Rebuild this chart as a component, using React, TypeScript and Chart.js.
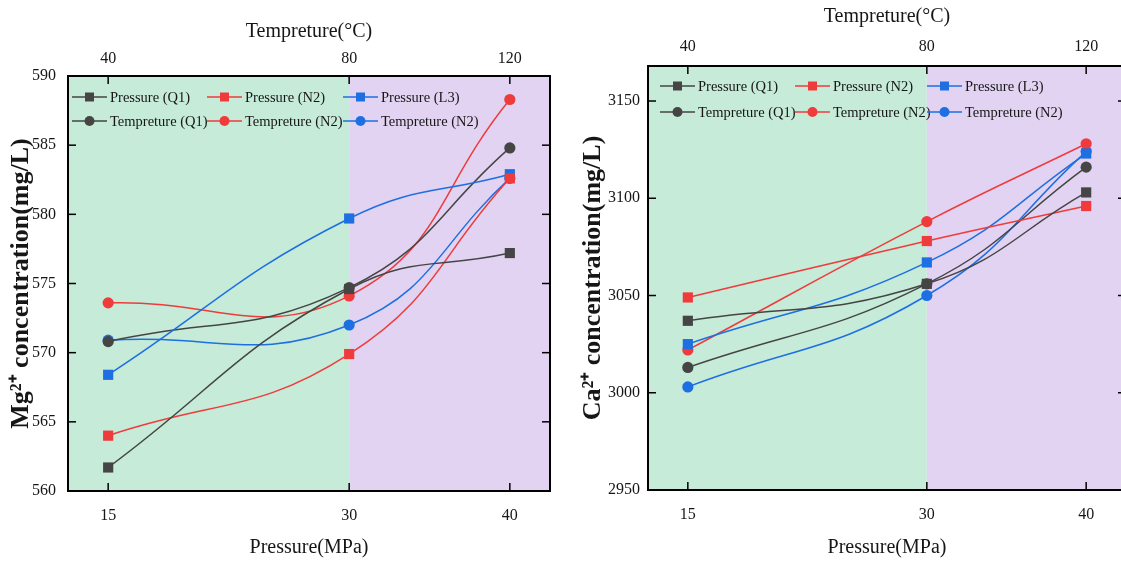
import React, { useEffect, useRef } from "react";
import { Chart, registerables } from "chart.js";

Chart.register(...registerables);

const FONT = '"Liberation Serif", "Times New Roman", Times, serif';
const TEXT = "#161616";
const GREEN = "#c6ebd8";
const PURPLE = "#e2d3f2";

// ---- shared axis data ----
const pressureTicks = [15, 30, 40];
const temperatureLabels = ["40", "80", "120"];
const pressureRange = [12.5, 42.5];
const phaseBoundary = 30;

// ---- series meta ----
const seriesNames = [
  "Pressure (Q1)",
  "Pressure (N2)",
  "Pressure (L3)",
  "Tempreture (Q1)",
  "Tempreture (N2)",
  "Tempreture (N2)",
];
const seriesColors = ["#454545", "#ef3b3b", "#1d6fe2", "#454545", "#ef3b3b", "#1d6fe2"];
const seriesMarkers = ["rect", "rect", "rect", "circle", "circle", "circle"];

// ---- Mg2+ chart values ----
const mgPressureQ1 = [561.7, 574.6, 577.2];
const mgPressureN2 = [564.0, 569.9, 582.6];
const mgPressureL3 = [568.4, 579.7, 582.9];
const mgTempQ1 = [570.8, 574.7, 584.8];
const mgTempN2Red = [573.6, 574.1, 588.3];
const mgTempN2Blue = [570.9, 572.0, 582.6];
const mgYRange = [560, 590];
const mgYStep = 5;

// ---- Ca2+ chart values ----
const caPressureQ1 = [3037, 3056, 3103];
const caPressureN2 = [3049, 3078, 3096];
const caPressureL3 = [3025, 3067, 3123];
const caTempQ1 = [3013, 3056, 3116];
const caTempN2Red = [3022, 3088, 3128];
const caTempN2Blue = [3003, 3050, 3124];
const caYRange = [2950, 3168];
const caYStep = 50;

type Layout = {
  leftW: number;
  rightW: number;
  topH: number;
  bottomH: number;
  yTickPad: number;
  yTickSize: number;
  yTitlePad: number;
  xTickPad: number;
  topTickPad: number;
  topTitlePad: number;
  bottomTitlePad: number;
  legendCols: number[];
  legendRows: number[];
};

const mgLayout: Layout = {
  leftW: 68,
  rightW: 10,
  topH: 76,
  bottomH: 73,
  yTickPad: 12,
  yTickSize: 16,
  yTitlePad: 6,
  xTickPad: 15,
  topTickPad: 8,
  topTitlePad: 20,
  bottomTitlePad: 4,
  legendCols: [4, 139, 275],
  legendRows: [21, 45],
};

const caLayout: Layout = {
  leftW: 88,
  rightW: 14,
  topH: 66,
  bottomH: 74,
  yTickPad: 8,
  yTickSize: 16,
  yTitlePad: 18,
  xTickPad: 15,
  topTickPad: 10,
  topTitlePad: 5,
  bottomTitlePad: 4,
  legendCols: [12, 147, 279],
  legendRows: [20, 46],
};

function makePlugins(L: Layout) {
  const background = {
    id: "phaseBackground",
    beforeDraw(chart: any) {
      const { ctx, chartArea: a, scales } = chart;
      const xb = scales.x.getPixelForValue(phaseBoundary);
      ctx.save();
      ctx.fillStyle = GREEN;
      ctx.fillRect(a.left, a.top, xb - a.left, a.bottom - a.top);
      ctx.fillStyle = PURPLE;
      ctx.fillRect(xb, a.top, a.right - xb, a.bottom - a.top);
      ctx.restore();
    },
  };
  const legend = {
    id: "insideLegend",
    afterDatasetsDraw(chart: any) {
      const { ctx, chartArea: a } = chart;
      ctx.save();
      chart.data.datasets.forEach((ds: any, i: number) => {
        const col = i % 3;
        const row = Math.floor(i / 3);
        const x = a.left + L.legendCols[col];
        const y = a.top + L.legendRows[row];
        ctx.strokeStyle = ds.borderColor;
        ctx.lineWidth = 1.5;
        ctx.beginPath();
        ctx.moveTo(x, y);
        ctx.lineTo(x + 35, y);
        ctx.stroke();
        ctx.fillStyle = ds.borderColor;
        if (ds.pointStyle === "rect") {
          ctx.fillRect(x + 17.5 - 4.5, y - 4.5, 9, 9);
        } else {
          ctx.beginPath();
          ctx.arc(x + 17.5, y, 5, 0, Math.PI * 2);
          ctx.fill();
        }
        ctx.fillStyle = TEXT;
        ctx.font = `14.5px ${FONT}`;
        ctx.textAlign = "left";
        ctx.textBaseline = "middle";
        ctx.fillText(ds.label, x + 38, y + 1);
      });
      ctx.restore();
    },
  };
  const inwardTicks = {
    id: "inwardTicks",
    afterDraw(chart: any) {
      const { ctx, chartArea: a, scales } = chart;
      const len = 8;
      ctx.save();
      ctx.strokeStyle = "#000";
      ctx.lineWidth = 1.5;
      const line = (x1: number, y1: number, x2: number, y2: number) => {
        ctx.beginPath();
        ctx.moveTo(x1, y1);
        ctx.lineTo(x2, y2);
        ctx.stroke();
      };
      scales.x.ticks.forEach((t: any) => {
        const p = scales.x.getPixelForValue(t.value);
        line(p, a.bottom, p, a.bottom - len);
      });
      scales.x2.ticks.forEach((t: any) => {
        const p = scales.x2.getPixelForValue(t.value);
        line(p, a.top, p, a.top + len);
      });
      scales.y.ticks.forEach((t: any) => {
        const p = scales.y.getPixelForValue(t.value);
        line(a.left, p, a.left + len, p);
      });
      scales.y2.ticks.forEach((t: any) => {
        const p = scales.y2.getPixelForValue(t.value);
        line(a.right, p, a.right - len, p);
      });
      ctx.restore();
    },
  };
  return [background, legend, inwardTicks];
}

function buildConfig(
  series: number[][],
  yRange: number[],
  yStep: number,
  yTitle: string,
  L: Layout
): any {
  const datasets = series.map((vals, i) => ({
    label: seriesNames[i],
    data: pressureTicks.map((p, j) => ({ x: p, y: vals[j] })),
    borderColor: seriesColors[i],
    backgroundColor: seriesColors[i],
    pointStyle: seriesMarkers[i],
    pointRadius: seriesMarkers[i] === "rect" ? 7.2 : 5.6,
    pointBorderWidth: 0,
    borderWidth: 1.5,
    tension: 0.45,
    fill: false,
  }));
  const border = { display: true, color: "#000", width: 2 };
  const grid = { display: false, drawTicks: false };
  const setTicks = (s: any) => {
    s.ticks = pressureTicks.map((v) => ({ value: v }));
  };
  return {
    type: "line",
    data: { datasets },
    options: {
      responsive: false,
      maintainAspectRatio: false,
      devicePixelRatio: 1,
      animation: false,
      layout: { padding: 0 },
      plugins: { legend: { display: false }, tooltip: { enabled: false } },
      scales: {
        x: {
          type: "linear",
          position: "bottom",
          min: pressureRange[0],
          max: pressureRange[1],
          afterBuildTicks: setTicks,
          ticks: {
            font: { family: FONT, size: 16 },
            color: TEXT,
            padding: L.xTickPad,
            maxRotation: 0,
            autoSkip: false,
            callback: (v: any) => String(v),
          },
          grid,
          border,
          title: {
            display: true,
            text: "Pressure(MPa)",
            font: { family: FONT, size: 20 },
            color: TEXT,
            padding: { top: 0, bottom: L.bottomTitlePad },
          },
          afterFit: (s: any) => {
            s.height = L.bottomH;
          },
        },
        x2: {
          type: "linear",
          position: "top",
          min: pressureRange[0],
          max: pressureRange[1],
          afterBuildTicks: setTicks,
          ticks: {
            font: { family: FONT, size: 16 },
            color: TEXT,
            padding: L.topTickPad,
            maxRotation: 0,
            autoSkip: false,
            callback: (_v: any, i: number) => temperatureLabels[i],
          },
          grid,
          border,
          title: {
            display: true,
            text: "Tempreture(°C)",
            font: { family: FONT, size: 20 },
            color: TEXT,
            padding: { top: L.topTitlePad, bottom: 0 },
          },
          afterFit: (s: any) => {
            s.height = L.topH;
          },
        },
        y: {
          type: "linear",
          position: "left",
          min: yRange[0],
          max: yRange[1],
          ticks: {
            stepSize: yStep,
            includeBounds: false,
            font: { family: FONT, size: L.yTickSize },
            color: TEXT,
            padding: L.yTickPad,
            callback: (v: any) => String(v),
          },
          grid,
          border,
          title: {
            display: true,
            text: yTitle,
            font: { family: FONT, size: 26, weight: "bold" },
            color: TEXT,
            padding: { top: L.yTitlePad, bottom: 0 },
          },
          afterFit: (s: any) => {
            s.width = L.leftW;
          },
        },
        y2: {
          type: "linear",
          position: "right",
          min: yRange[0],
          max: yRange[1],
          ticks: { stepSize: yStep, includeBounds: false, display: false },
          grid,
          border,
          afterFit: (s: any) => {
            s.width = L.rightW;
          },
        },
      },
    },
    plugins: makePlugins(L),
  };
}

function ChartCanvas(props: {
  config: () => any;
  left: number;
  width: number;
}) {
  const ref = useRef<HTMLCanvasElement | null>(null);
  useEffect(() => {
    if (!ref.current) return;
    const chart = new Chart(ref.current, props.config());
    return () => chart.destroy();
  }, []);
  return (
    <canvas
      ref={ref}
      width={props.width}
      height={564}
      style={{
        position: "absolute",
        left: props.left,
        top: 0,
        width: props.width,
        height: 564,
        display: "block",
      }}
    />
  );
}

export default function App() {
  return (
    <div
      style={{
        position: "fixed",
        left: 0,
        top: 0,
        width: 1121,
        height: 564,
        overflow: "hidden",
        background: "#ffffff",
      }}
    >
      <ChartCanvas
        left={0}
        width={560}
        config={() =>
          buildConfig(
            [mgPressureQ1, mgPressureN2, mgPressureL3, mgTempQ1, mgTempN2Red, mgTempN2Blue],
            mgYRange,
            mgYStep,
            "Mg²⁺ concentration(mg/L)",
            mgLayout
          )
        }
      />
      <ChartCanvas
        left={560}
        width={580}
        config={() =>
          buildConfig(
            [caPressureQ1, caPressureN2, caPressureL3, caTempQ1, caTempN2Red, caTempN2Blue],
            caYRange,
            caYStep,
            "Ca²⁺ concentration(mg/L)",
            caLayout
          )
        }
      />
    </div>
  );
}
